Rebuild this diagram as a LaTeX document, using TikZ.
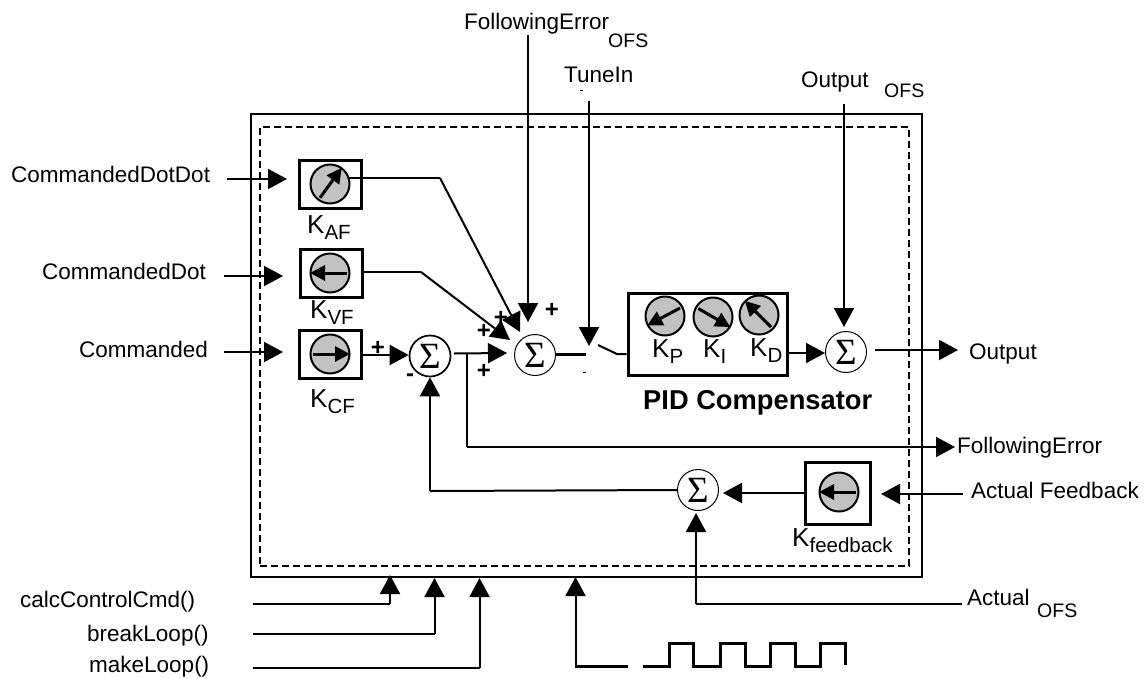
\documentclass[tikz,border=0pt]{standalone}
\usepackage{fontspec}
\setmainfont{Liberation Sans}
\newfontfamily\sigmafont{Liberation Serif}
\usetikzlibrary{arrows.meta}
\newcommand{\needleat}[2]{\draw[needlearrow] (#1.center) ++(#2+180:17pt) -- ++(#2:37pt);}
\newcommand{\gainsub}[1]{\raisebox{-6pt}{\fontsize{20.5}{22}\selectfont #1}}
\tikzset{
  lbl/.style={inner sep=0pt,anchor=base west,font=\fontsize{22.5}{26}\selectfont},
  sublbl/.style={inner sep=0pt,anchor=base west,font=\fontsize{19.5}{23}\selectfont},
  gainlbl/.style={inner sep=0pt,anchor=base west,font=\fontsize{26}{30}\selectfont},
  plus/.style={inner sep=0pt,font=\bfseries\fontsize{24}{28}\selectfont},
  gainbox/.style={draw,line width=3pt,inner sep=0pt,minimum width=62pt,minimum height=48pt},
  dial/.style={draw,circle,line width=2pt,fill=black!24,inner sep=0pt,minimum size=39pt},
  sumnode/.style={draw,circle,line width=1pt,fill=white,inner sep=0pt,minimum size=41pt,font=\sigmafont\fontsize{37}{37}\selectfont},
  conn/.style={line width=2pt},
  thick conn/.style={line width=3pt},
  arr/.style={line width=2pt,-{Triangle[length=19pt,width=20pt]}},
  needlearrow/.style={line width=3pt,-{Triangle[length=15pt,width=15pt]}},
}
\begin{document}
\begin{tikzpicture}[x=1pt,y=-1pt]
\useasboundingbox (0,0) rectangle (1146,678);
% frames
\node[draw,line width=2.4pt,inner sep=0pt,minimum width=671pt,minimum height=463pt] (outer) at (586.5,345.5) {};
\node[draw,dashed,line width=2pt,dash pattern=on 7pt off 4pt,inner sep=0pt,minimum width=649pt,minimum height=439pt] (inner) at (584.5,346.5) {};
% gain boxes
\node[gainbox] (kaf) at (330,184) {};
\node[gainbox] (kvf) at (331,273) {};
\node[gainbox] (kcf) at (330.5,354) {};
\node[gainbox,minimum width=65pt,minimum height=62pt] (kfb) at (837.5,493) {};
\node[draw,line width=3pt,inner sep=0pt,minimum width=159pt,minimum height=82pt] (pid) at (707.5,334) {};
% dials
\node[dial] (dAF) at (330,184) {};
\node[dial] (dVF) at (330,273) {};
\node[dial] (dCF) at (330,354) {};
\node[dial] (dP) at (665,316) {};
\node[dial] (dI) at (713,317) {};
\node[dial] (dD) at (759,315) {};
\node[dial] (dFB) at (839,492) {};
\needleat{dAF}{54}
\needleat{dVF}{180}
\needleat{dCF}{0}
\needleat{dP}{208}
\needleat{dI}{330}
\needleat{dD}{135}
\needleat{dFB}{180}
% summing junctions
\node[sumnode,line width=1.7pt] (s1) at (430,356) {Σ};
\node[sumnode] (s2) at (535,355) {Σ};
\node[sumnode] (s3) at (846,352) {Σ};
\node[sumnode] (s4) at (698,490) {Σ};
% texts
\node[lbl] (tDD) at (11,182) {CommandedDotDot};
\node[lbl] (tD) at (42,279) {CommandedDot};
\node[lbl] (tC) at (79,357) {Commanded};
\node[lbl] (tFEO) at (464,29) {FollowingError};
\node[sublbl] (tFEOs) at (608,47) {OFS};
\node[lbl] (tTune) at (564,82) {TuneIn};
\node[lbl] (tOutO) at (801,87) {Output};
\node[sublbl] (tOutOs) at (884,97) {OFS};
\node[lbl] (tOut) at (969,359) {Output};
\node[lbl] (tFE) at (957,453) {FollowingError};
\node[lbl] (tAF) at (971,498) {Actual Feedback};
\node[lbl] (tAct) at (967,605) {Actual};
\node[sublbl] (tActs) at (1037,617) {OFS};
\node[lbl] (tCalc) at (20,607) {calcControlCmd()};
\node[lbl] (tBreak) at (87,641) {breakLoop()};
\node[lbl] (tMake) at (89,672) {makeLoop()};
\node[gainlbl] at (307,233) {K\gainsub{AF}};
\node[gainlbl] at (310,318) {K\gainsub{VF}};
\node[gainlbl] at (310,407) {K\gainsub{CF}};
\node[gainlbl] at (652,357) {K\gainsub{P}};
\node[gainlbl] at (703,357) {K\gainsub{I}};
\node[gainlbl] at (750,356) {K\gainsub{D}};
\node[gainlbl] at (792,546) {K\gainsub{feedback}};
\node[inner sep=0pt,anchor=base west,font=\bfseries\fontsize{27.3}{32}\selectfont] (tPID) at (643,409) {PID Compensator};
\node[plus] at (552,310) {+};
\node[plus] at (501,318) {+};
\node[plus] at (484,331) {+};
\node[plus] at (484,371) {+};
\node[plus] at (378,348) {+};
\node[plus] at (410,378) {-};
% free ends and bends
\coordinate (inDD) at (227,179);
\coordinate (inD) at (224,276);
\coordinate (inC) at (224,352);
\coordinate (bendAF) at (440,178);
\coordinate (bendVF) at (421,272);
\coordinate (feoTop) at (528,35);
\coordinate (tuneTop) at (589,101);
\coordinate (outoTop) at (844,104);
\coordinate (sw0) at (586,354);
\coordinate (sw1) at (598,345);
\coordinate (sw2) at (617,354);
\coordinate (branch) at (467,354);
\coordinate (feEnd) at (955,447);
\coordinate (fbIn) at (963,494);
\coordinate (actIn) at (962,604);
% inputs
\draw[arr] (inDD) -- (287,179);
\draw[arr] (inD) -- (283,276);
\draw[arr] (inC) -- (283,352);
% feed-forward paths
\draw[conn] (dAF.east |- bendAF) ++(-2,0) -- (bendAF);
\draw[arr] (bendAF) -- (520,332);
\draw[conn] (kvf.east |- bendVF) -- (bendVF);
\draw[arr] (bendVF) -- (510,340);
\draw[arr] (feoTop) -- (528,322);
\draw[arr] (tuneTop) -- (589,346);
\draw[arr] (outoTop) -- (844,327);
% forward path
\draw[arr] (kcf.east |- 0,355) -- (s1.west |- 0,355);
\draw[arr] (454,353.5) -- (507,353);
\draw[conn] (branch) -- (467,447);
\draw[arr] (467,447) -- (feEnd);
\draw[thick conn] (s2.east |- sw0) -- (sw0);
\draw[conn] (sw1) -- (sw2) -- (pid.west |- sw2);
\draw[line width=1pt] (583,372) -- (586,372);
\draw[line width=1pt] (580,90) -- (583,90);
\draw[arr] (pid.east |- 0,353) -- (s3.west |- 0,353);
\draw[arr] (875,350) -- (958,350);
% feedback path
\draw[arr] (fbIn) -- (881,494);
\draw[arr] (kfb.west |- 0,493) -- (723,493);
\draw[conn] (s4.west) -- (430,491);
\draw[arr] (430,491) -- (s1.south);
\draw[conn] (actIn) -- (696,604);
\draw[arr] (696,604) -- (696,513);
% method calls
\draw[conn] (253,604) -- (390,604);
\draw[arr] (390,604) -- (390,575);
\draw[conn] (253,634) -- (434.5,634);
\draw[arr] (434.5,634) -- (434.5,578);
\draw[conn] (253,668) -- (479.5,668);
\draw[arr] (479.5,668) -- (479.5,578);
% clock
\draw[arr] (575.5,666.5) -- (575.5,577);
\draw[thick conn] (627.5,666) -- (574.5,666);
\draw[thick conn,line join=miter] (642.5,666) -- (669,666) -- (669,643) -- (693.5,643) -- (693.5,666) -- (720,666) -- (720,643) -- (745,643) -- (745,666) -- (770,666) -- (770,643) -- (795,643) -- (795,666) -- (820,666) -- (820,643) -- (845,643) -- (845,665);
\end{tikzpicture}
\end{document}
